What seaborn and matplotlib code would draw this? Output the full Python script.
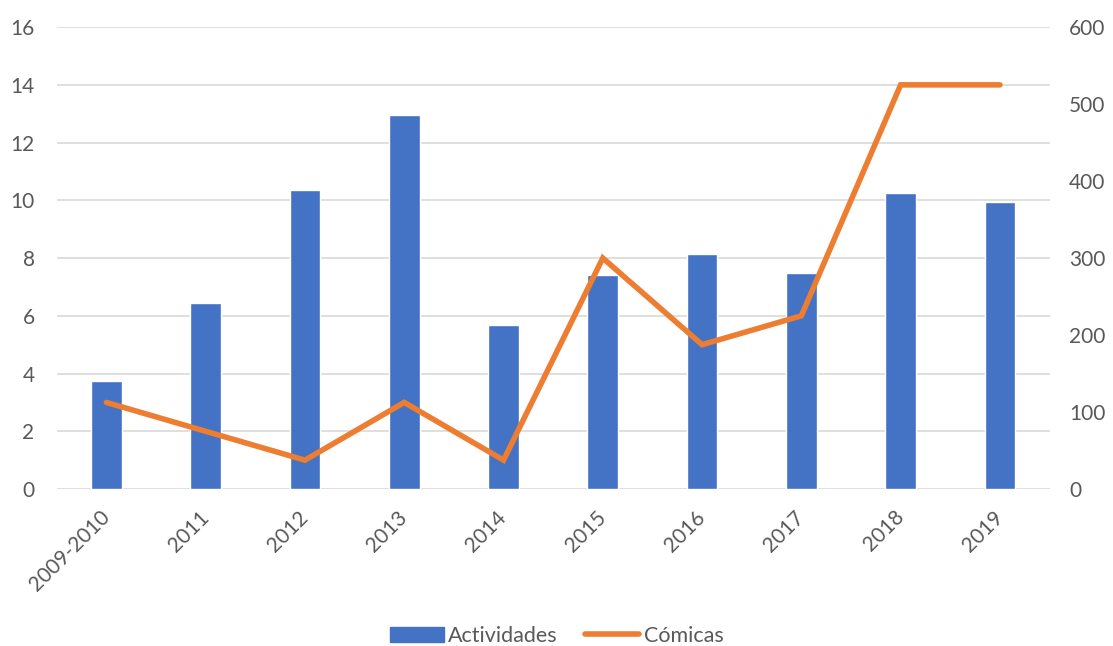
import numpy as np
import pandas as pd
import matplotlib
matplotlib.use("Agg")
import matplotlib.pyplot as plt
import seaborn as sns
from matplotlib.patches import Patch
from matplotlib.lines import Line2D

categories = ["2009-2010", "2011", "2012", "2013", "2014", "2015", "2016", "2017", "2018", "2019"]
actividades = [3.75, 6.44, 10.36, 12.95, 5.67, 7.40, 8.14, 7.48, 10.27, 9.94]
comicas = [112.5, 75, 37.5, 112.5, 37.5, 300, 187.5, 225, 525, 525]
left_ticks = [0, 2, 4, 6, 8, 10, 12, 14, 16]
right_ticks = [0, 100, 200, 300, 400, 500, 600]

sns.set_theme(style="white")
plt.rcParams['font.family'] = ['Lato', 'DejaVu Sans']

df = pd.DataFrame({"cat": categories, "act": actividades, "com": comicas,
                   "pos": np.arange(len(categories))})

fig = plt.figure(figsize=(11.13, 6.46), dpi=100)
ax = fig.add_axes([0.051, 0.243, 0.892, 0.715])
blue = "#4472C4"
orange = "#ED7D31"
gray = "#595959"
fs = 15

sns.barplot(data=df, x="cat", y="act", ax=ax, color=blue, width=0.31, saturation=1)
ax.set_ylim(0, 16)
ax.set_yticks(left_ticks)
ax.set_xlim(-0.5, len(categories) - 0.5)
ax.yaxis.grid(True, color="#D9D9D9", lw=1.2)
ax.set_axisbelow(True)
for s in ax.spines.values():
    s.set_visible(False)
ax.set_xlabel("")
ax.set_ylabel("")
ax.tick_params(axis="both", length=0, colors=gray, labelsize=fs)
ax.tick_params(axis="y", pad=16)
ax.tick_params(axis="x", pad=18)
plt.setp(ax.get_xticklabels(), rotation=45, ha="right", va="center",
         rotation_mode="anchor")

ax2 = ax.twinx()
sns.lineplot(data=df, x="pos", y="com", ax=ax2, color=orange, lw=4, sort=False,
             solid_capstyle="round", solid_joinstyle="miter")
ax2.set_ylim(0, 600)
ax2.set_yticks(right_ticks)
ax2.set_xlim(-0.5, len(categories) - 0.5)
for s in ax2.spines.values():
    s.set_visible(False)
ax2.set_ylabel("")
ax2.set_xlabel("")
ax2.tick_params(axis="y", length=0, colors=gray, labelsize=fs, pad=14)
ax2.grid(False)

handles = [Patch(facecolor=blue, edgecolor=blue),
           Line2D([0], [0], color=orange, lw=4, solid_capstyle="round")]
fig.legend(handles, ["Actividades", "Cómicas"], loc="lower center",
           bbox_to_anchor=(0.5, -0.03), ncol=2, frameon=False, fontsize=15.5,
           labelcolor=gray, handlelength=2.5, columnspacing=1.3, handletextpad=0.2)

fig.savefig("out.png", dpi=100, facecolor="white")
